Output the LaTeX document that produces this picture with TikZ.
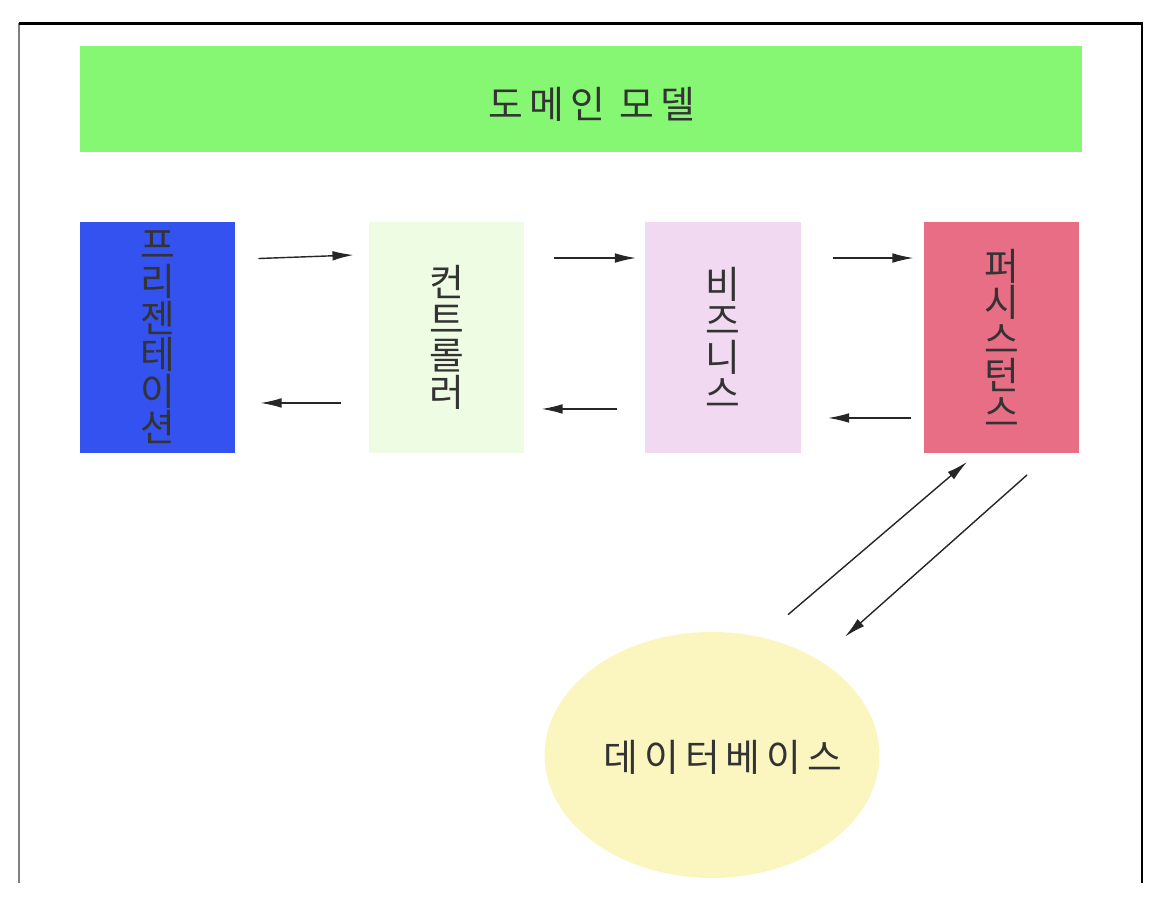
\documentclass[tikz,border=0pt]{standalone}
\usepackage{fontspec}
\newfontfamily\korfont{Noto Sans CJK KR}
\newfontfamily\korwide[LetterSpace=16]{Noto Sans CJK KR}
\usetikzlibrary{arrows.meta,calc,shapes.geometric}

\definecolor{domaingreen}{HTML}{85F772}
\definecolor{presblue}{HTML}{3452F0}
\definecolor{ctrlgreen}{HTML}{EEFCE4}
\definecolor{bizpink}{HTML}{F1DAF1}
\definecolor{persred}{HTML}{E86E85}
\definecolor{dbyellow}{HTML}{FBF6C0}

\tikzset{
    layer/.style={rectangle,inner sep=0pt,outer sep=0pt,minimum width=3.12cm,minimum height=4.62cm,
        align=center,text=black!80,font=\korfont\fontsize{21.5}{20.8}\selectfont},
    flow/.style={->,>={Latex[length=12pt,width=5.5pt]},line width=0.8pt,black!85}
}

\begin{document}
\begin{tikzpicture}[x=0.02cm,y=-0.02cm]
		\useasboundingbox (0,0) rectangle (1164,922);

		% frame
		\draw[gray,line width=1pt] (19,883) -- (19,23.5);
		\draw[line width=1.4pt] (19,23.5) -- (1142,23.5) -- (1142,883);

		\node[fill=domaingreen,inner sep=0pt,minimum width=20.04cm,minimum height=2.12cm] (domain) at (581,99) {};
		\node[text=black!80,font=\korwide\fontsize{21.5}{22}\selectfont] at (592,104) {도메인 모델};

		\node[layer,fill=presblue] (pres) at (157.5,337.5) {프\\리\\젠\\테\\이\\션};
		\node[layer,fill=ctrlgreen] (ctrl) at (446.5,337.5) {컨\\트\\롤\\러};
		\node[layer,fill=bizpink] (biz) at (723,337.5) {비\\즈\\니\\스};
		\node[layer,fill=persred] (pers) at (1001.5,337.5) {퍼\\시\\스\\턴\\스};

		\node[ellipse,fill=dbyellow,inner sep=0pt,minimum width=6.7cm,minimum height=4.92cm] (db) at (712,755) {};
		\node[text=black!80,font=\korwide\fontsize{21.5}{22}\selectfont] at (723,757) {데이터베이스};

		\begin{scope}[flow]
		    \draw ($(pres.north east)+(23,36.5)$) -- ($(ctrl.north west)+(-15,33)$);
		    \draw ($(ctrl.south west)+(-28,-50)$) -- ($(pres.south east)+(25,-50)$);
		    \draw ($(ctrl.north east)+(30,36)$) -- ($(biz.north west)+(-9,36)$);
		    \draw ($(biz.south west)+(-28,-44)$) -- ($(ctrl.south east)+(17,-44)$);
		    \draw ($(biz.north east)+(32,36)$) -- ($(pers.north west)+(-10,36)$);
		    \draw ($(pers.south west)+(-13,-35)$) -- ($(biz.south east)+(27,-35)$);
		    \draw ($(db.north)+(76,-17)$) -- ($(pers.south)+(-34.5,9)$);
		    \draw ($(pers.south)+(25.5,22)$) -- ($(db.north)+(133,5)$);
		\end{scope}
\end{tikzpicture}
\end{document}
